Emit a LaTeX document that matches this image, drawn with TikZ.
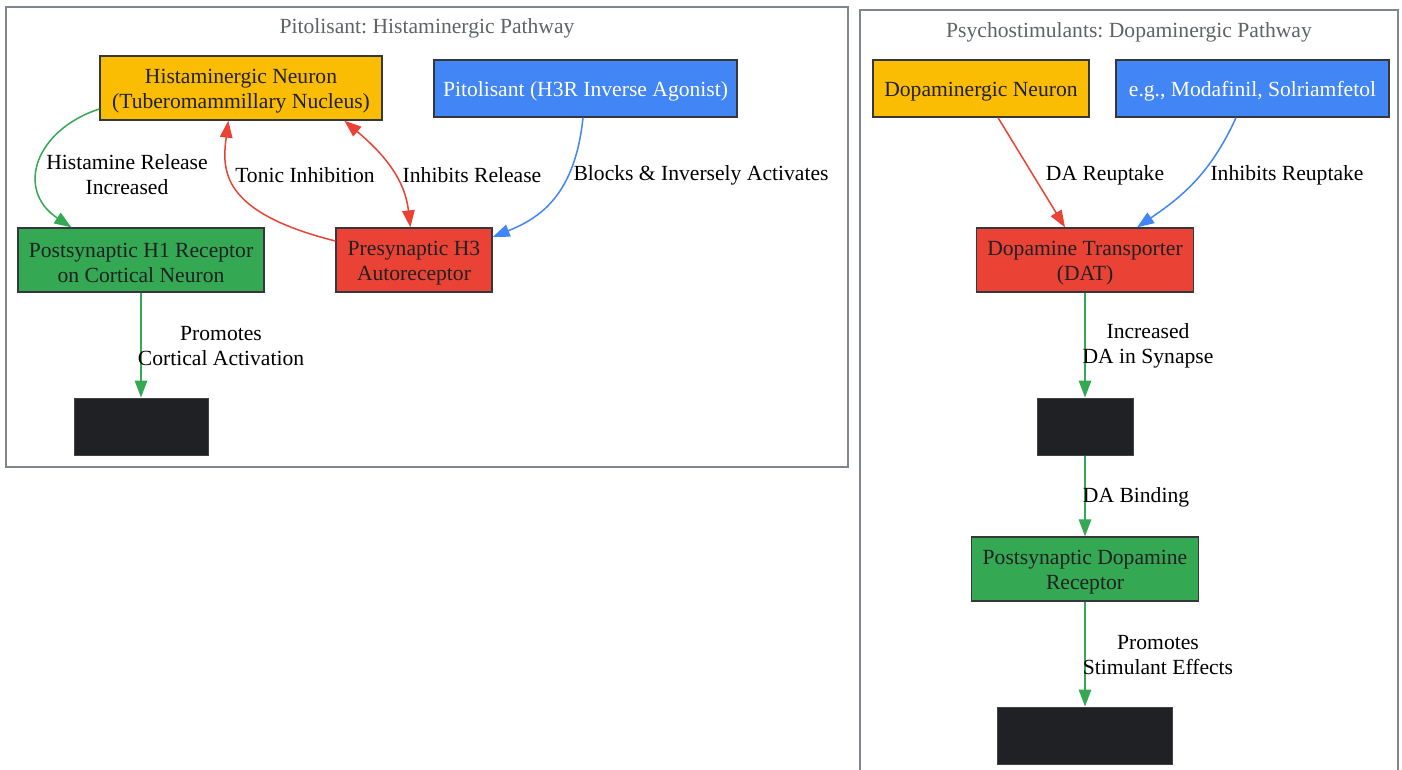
\documentclass[tikz,border=0pt]{standalone}
\usepackage{fontspec}
\setmainfont{Liberation Serif}
\frenchspacing
\usetikzlibrary{arrows.meta}
\definecolor{gyellow}{HTML}{FBBC04}
\definecolor{gblue}{HTML}{4285F4}
\definecolor{ggreen}{HTML}{34A853}
\definecolor{gred}{HTML}{EA4335}
\definecolor{gdark}{HTML}{202124}
\definecolor{gtitle}{HTML}{5F6368}
\definecolor{gframe}{HTML}{80868B}
\tikzset{
  gtip/.tip={Triangle[length=17pt,width=12.5pt]},
  box/.style={draw=gdark!90, line width=1.3pt, rectangle, inner sep=0pt},
  boxtext/.style={align=center, inner sep=0pt, text=gdark, yshift=-3pt,
    font=\fontsize{21.6}{25}\selectfont},
  blackbox/.style={draw=gdark!85!white, fill=gdark, line width=1pt, rectangle, inner sep=0pt},
  lbl/.style={align=center, inner sep=0pt, text=black, font=\fontsize{21.6}{25}\selectfont},
  ttl/.style={inner sep=0pt, text=gtitle, font=\fontsize{21.6}{25}\selectfont},
  cluster/.style={draw=gframe, line width=1.5pt},
  conn/.style={line width=1.5pt, -gtip},
}
\begin{document}
\begin{tikzpicture}[x=1pt,y=-1pt]
\useasboundingbox[fill=white] (0,0) rectangle (1402,769);
\clip (0,0) rectangle (1402,769);

% clusters
\draw[cluster] (6,7) rectangle (848,467);
\draw[cluster] (860,10) rectangle (1398,790);
\node[ttl] (t1) at (427,28) {Pitolisant: Histaminergic Pathway};
\node[ttl] (t2) at (1129,32) {Psychostimulants: Dopaminergic Pathway};

% left nodes
\node[box, fill=gyellow, minimum width=282pt, minimum height=64pt,
  label={[boxtext]center:{Histaminergic Neuron\\(Tuberomammillary Nucleus)}}] (hist) at (241,88) {};
\node[box, fill=gblue, minimum width=303pt, minimum height=57pt,
  label={[boxtext, text=white]center:{Pitolisant (H3R Inverse Agonist)}}] (pit) at (585.5,88.5) {};
\node[box, fill=ggreen, minimum width=246pt, minimum height=64pt,
  label={[boxtext]center:{Postsynaptic H1 Receptor\\on Cortical Neuron}}] (h1) at (141,260) {};
\node[box, fill=gred, minimum width=156pt, minimum height=64pt,
  label={[boxtext]center:{Presynaptic H3\\Autoreceptor}}] (h3) at (414,260) {};
\node[blackbox, minimum width=134pt, minimum height=57pt] (bk1) at (141,426.5) {};

% right nodes
\node[box, fill=gyellow, minimum width=216pt, minimum height=57pt,
  label={[boxtext]center:{Dopaminergic Neuron}}] (dopn) at (981,88.5) {};
\node[box, fill=gblue, minimum width=273pt, minimum height=57pt,
  label={[boxtext, text=white]center:{e.g., Modafinil, Solriamfetol}}] (moda) at (1252.5,88.5) {};
\node[box, fill=gred, minimum width=217pt, minimum height=64pt,
  label={[boxtext]center:{Dopamine Transporter\\(DAT)}}] (dat) at (1085,260) {};
\node[blackbox, minimum width=96pt, minimum height=57pt] (bk2) at (1085,426.5) {};
\node[box, fill=ggreen, minimum width=227pt, minimum height=64pt,
  label={[boxtext]center:{Postsynaptic Dopamine\\Receptor}}] (doprec) at (1085,569) {};
\node[blackbox, minimum width=175pt, minimum height=57pt] (bk3) at (1085,735.5) {};

% left connectors
\draw[conn, ggreen] ([yshift=-21pt]hist.west) .. controls (35,130) and (15,190) .. ([xshift=54pt]h1.north west);
\draw[conn, gred] ([yshift=19pt]h3.west) .. controls (220,212) and (222,170) .. ([xshift=129pt]hist.south west);
\draw[conn, gred, gtip-gtip]
  ([xshift=245pt]hist.south west) .. controls (385,155) and (405,180) .. ([xshift=75pt]h3.north west);
\draw[conn, gblue] ([xshift=-2.5pt]pit.south) .. controls (575,195) and (540,218) .. ([yshift=23pt]h3.east);
\draw[conn, ggreen] (h1.south) -- (bk1.north);

% right connectors
\draw[conn, gred] ([xshift=17pt]dopn.south) -- ([xshift=-20pt]dat.north);
\draw[conn, gblue] ([xshift=-16.5pt]moda.south) .. controls (1210,175) and (1180,198) .. ([xshift=52pt]dat.north);
\draw[conn, ggreen] (dat.south) -- (bk2.north);
\draw[conn, ggreen] (bk2.south) -- (doprec.north);
\draw[conn, ggreen] (doprec.south) -- (bk3.north);

% labels
\node[lbl] (l1) at (127,175) {Histamine Release\\Increased};
\node[lbl] (l2) at (305,175) {Tonic Inhibition};
\node[lbl] (l3) at (472,175) {Inhibits Release};
\node[lbl] (l4) at (701,175) {Blocks \& Inversely Activates};
\node[lbl] (l5) at (221,346) {Promotes\\Cortical Activation};
\node[lbl] (l6) at (1105,175) {DA Reuptake};
\node[lbl] (l7) at (1287,175) {Inhibits Reuptake};
\node[lbl] (l8) at (1148,346) {Increased\\DA in Synapse};
\node[lbl] (l9) at (1136,497) {DA Binding};
\node[lbl] (l10) at (1158,655) {Promotes\\Stimulant Effects};
\end{tikzpicture}
\end{document}
